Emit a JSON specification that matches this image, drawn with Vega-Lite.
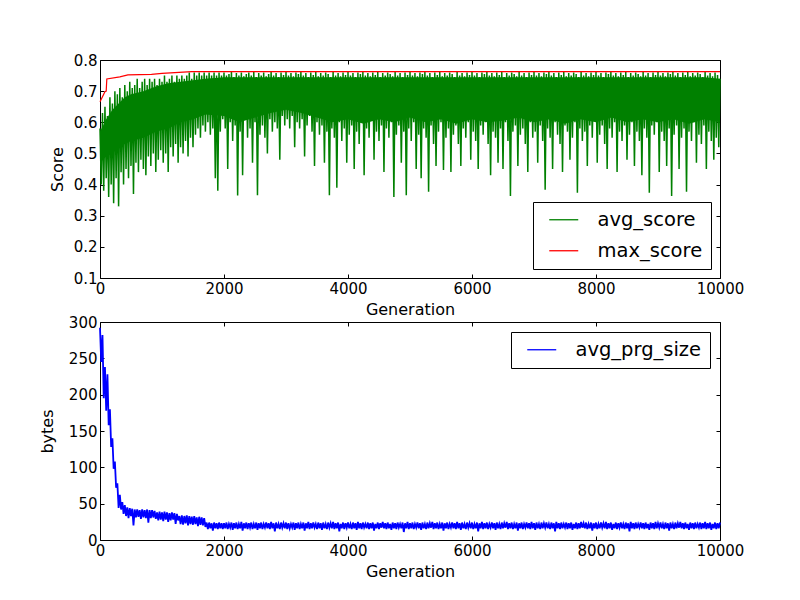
{
"$schema":"https://vega.github.io/schema/vega-lite/v6.json",
"background":"white",
"padding":{"left":38,"top":52,"right":10,"bottom":10},
"datasets":{
"mx":[{"g":0,"m":0.666},{"g":80,"m":0.698},{"g":100,"m":0.70},{"g":110,"m":0.739},{"g":320,"m":0.746},{"g":450,"m":0.752},{"g":830,"m":0.754},{"g":1000,"m":0.757},{"g":1480,"m":0.7625},{"g":10000,"m":0.7625}],
"band":[{"g":0,"lo":0.47,"hi":0.57},{"g":100,"lo":0.49,"hi":0.61},{"g":200,"lo":0.50,"hi":0.64},{"g":300,"lo":0.52,"hi":0.66},{"g":400,"lo":0.53,"hi":0.68},{"g":500,"lo":0.54,"hi":0.69},{"g":700,"lo":0.55,"hi":0.70},{"g":900,"lo":0.57,"hi":0.715},{"g":1100,"lo":0.58,"hi":0.725},{"g":1300,"lo":0.60,"hi":0.73},{"g":1500,"lo":0.61,"hi":0.735},{"g":1700,"lo":0.625,"hi":0.74},{"g":2000,"lo":0.62,"hi":0.745},{"g":2250,"lo":0.60,"hi":0.745},{"g":2500,"lo":0.615,"hi":0.745},{"g":2750,"lo":0.63,"hi":0.745},{"g":3000,"lo":0.64,"hi":0.745},{"g":3250,"lo":0.63,"hi":0.745},{"g":3500,"lo":0.615,"hi":0.745},{"g":3750,"lo":0.60,"hi":0.745},{"g":4000,"lo":0.61,"hi":0.745},{"g":4250,"lo":0.595,"hi":0.745},{"g":4500,"lo":0.61,"hi":0.745},{"g":4750,"lo":0.60,"hi":0.745},{"g":5000,"lo":0.615,"hi":0.745},{"g":5250,"lo":0.60,"hi":0.745},{"g":5500,"lo":0.61,"hi":0.745},{"g":5750,"lo":0.595,"hi":0.745},{"g":6000,"lo":0.61,"hi":0.745},{"g":6250,"lo":0.60,"hi":0.745},{"g":6500,"lo":0.605,"hi":0.745},{"g":6750,"lo":0.615,"hi":0.745},{"g":7000,"lo":0.60,"hi":0.745},{"g":7250,"lo":0.61,"hi":0.745},{"g":7500,"lo":0.595,"hi":0.745},{"g":7750,"lo":0.61,"hi":0.745},{"g":8000,"lo":0.60,"hi":0.745},{"g":8250,"lo":0.615,"hi":0.745},{"g":8500,"lo":0.60,"hi":0.745},{"g":8750,"lo":0.61,"hi":0.745},{"g":9000,"lo":0.60,"hi":0.745},{"g":9250,"lo":0.61,"hi":0.745},{"g":9500,"lo":0.595,"hi":0.745},{"g":9750,"lo":0.61,"hi":0.745},{"g":10000,"lo":0.60,"hi":0.74}],
"s":[
{"g":0,"a":0.58,"p":292},{"g":20,"a":0.40,"p":245},{"g":40,"a":0.63,"p":282},{"g":60,"a":0.38,"p":195},{"g":80,"a":0.65,"p":238},{"g":100,"a":0.42,"p":178},{"g":120,"a":0.62,"p":228},{"g":140,"a":0.36,"p":158},{"g":160,"a":0.68,"p":180},{"g":180,"a":0.40,"p":128},
{"g":200,"a":0.66,"p":140},{"g":220,"a":0.34,"p":98},{"g":240,"a":0.70,"p":108},{"g":260,"a":0.42,"p":72},{"g":280,"a":0.69,"p":78},{"g":300,"a":0.33,"p":44},{"g":320,"a":0.71,"p":62},{"g":340,"a":0.44,"p":42},{"g":360,"a":0.68,"p":52},{"g":380,"a":0.40,"p":36},
{"g":400,"a":0.72,"p":48},{"g":420,"a":0.45,"p":33},{"g":440,"a":0.70,"p":45},{"g":460,"a":0.42,"p":30},{"g":480,"a":0.73,"p":44},{"g":500,"a":0.46,"p":33},{"g":520,"a":0.71,"p":43},{"g":540,"a":0.37,"p":20},{"g":560,"a":0.72,"p":42},{"g":580,"a":0.47,"p":31},
{"g":600,"a":0.74,"p":42},{"g":620,"a":0.44,"p":32},{"g":640,"a":0.71,"p":41},{"g":660,"a":0.48,"p":29},{"g":680,"a":0.73,"p":42},{"g":700,"a":0.45,"p":31},{"g":720,"a":0.74,"p":41},{"g":740,"a":0.43,"p":30},{"g":760,"a":0.72,"p":42},{"g":780,"a":0.49,"p":24},
{"g":800,"a":0.74,"p":41},{"g":820,"a":0.46,"p":30},{"g":840,"a":0.73,"p":41},{"g":860,"a":0.50,"p":31},{"g":880,"a":0.74,"p":40},{"g":900,"a":0.44,"p":29},{"g":920,"a":0.72,"p":38},{"g":940,"a":0.48,"p":27},{"g":960,"a":0.74,"p":39},{"g":980,"a":0.51,"p":28},
{"g":1000,"a":0.73,"p":38},{"g":1020,"a":0.47,"p":26},{"g":1040,"a":0.75,"p":39},{"g":1060,"a":0.50,"p":28},{"g":1080,"a":0.73,"p":38},{"g":1100,"a":0.44,"p":25},{"g":1120,"a":0.74,"p":37},{"g":1140,"a":0.52,"p":27},{"g":1160,"a":0.75,"p":38},{"g":1180,"a":0.49,"p":28},
{"g":1200,"a":0.73,"p":37},{"g":1220,"a":0.53,"p":22},{"g":1240,"a":0.75,"p":36},{"g":1260,"a":0.47,"p":27},{"g":1280,"a":0.74,"p":33},{"g":1300,"a":0.52,"p":22},{"g":1320,"a":0.75,"p":34},{"g":1340,"a":0.50,"p":21},{"g":1360,"a":0.74,"p":33},{"g":1380,"a":0.54,"p":23},
{"g":1400,"a":0.75,"p":34},{"g":1420,"a":0.49,"p":20},{"g":1440,"a":0.76,"p":33},{"g":1460,"a":0.55,"p":22},{"g":1480,"a":0.74,"p":32},{"g":1500,"a":0.52,"p":21},{"g":1520,"a":0.76,"p":33},{"g":1540,"a":0.56,"p":22},{"g":1560,"a":0.75,"p":31},{"g":1580,"a":0.58,"p":19},
{"g":1600,"a":0.76,"p":32},{"g":1620,"a":0.55,"p":21},{"g":1640,"a":0.75,"p":31},{"g":1660,"a":0.59,"p":20},{"g":1680,"a":0.76,"p":30},{"g":1700,"a":0.57,"p":18},{"g":1720,"a":0.75,"p":24},{"g":1740,"a":0.60,"p":15},{"g":1760,"a":0.76,"p":24},{"g":1780,"a":0.56,"p":16},
{"g":1800,"a":0.75,"p":23},{"g":1820,"a":0.58,"p":13},{"g":1840,"a":0.76,"p":24},{"g":1860,"a":0.42,"p":16},{"g":1880,"a":0.75,"p":23},{"g":1900,"a":0.38,"p":15},{"g":1920,"a":0.76,"p":24},{"g":1940,"a":0.57,"p":16},{"g":1960,"a":0.75,"p":23},{"g":1980,"a":0.61,"p":15},
{"g":2000,"a":0.76,"p":23},{"g":2020,"a":0.58,"p":16},{"g":2040,"a":0.75,"p":24},{"g":2060,"a":0.45,"p":15},{"g":2080,"a":0.755,"p":22},{"g":2100,"a":0.60,"p":17},{"g":2120,"a":0.762,"p":24},{"g":2140,"a":0.54,"p":14},{"g":2160,"a":0.745,"p":23},{"g":2180,"a":0.59,"p":16},
{"g":2200,"a":0.758,"p":24},{"g":2220,"a":0.365,"p":15},{"g":2240,"a":0.75,"p":22},{"g":2260,"a":0.57,"p":16},{"g":2280,"a":0.76,"p":25},{"g":2300,"a":0.43,"p":13},{"g":2320,"a":0.748,"p":23},{"g":2340,"a":0.61,"p":16},{"g":2360,"a":0.755,"p":24},{"g":2380,"a":0.55,"p":15},
{"g":2400,"a":0.76,"p":23},{"g":2420,"a":0.58,"p":17},{"g":2440,"a":0.75,"p":24},{"g":2460,"a":0.47,"p":15},{"g":2480,"a":0.762,"p":22},{"g":2500,"a":0.60,"p":16},{"g":2520,"a":0.745,"p":24},{"g":2540,"a":0.366,"p":14},{"g":2560,"a":0.758,"p":23},{"g":2580,"a":0.56,"p":16},
{"g":2600,"a":0.75,"p":24},{"g":2620,"a":0.59,"p":15},{"g":2640,"a":0.76,"p":22},{"g":2660,"a":0.55,"p":17},{"g":2680,"a":0.748,"p":24},{"g":2700,"a":0.50,"p":16},{"g":2720,"a":0.755,"p":23},{"g":2740,"a":0.61,"p":15},{"g":2760,"a":0.762,"p":25},{"g":2780,"a":0.57,"p":16},
{"g":2800,"a":0.75,"p":23},{"g":2820,"a":0.60,"p":12},{"g":2840,"a":0.758,"p":24},{"g":2860,"a":0.58,"p":16},{"g":2880,"a":0.745,"p":22},{"g":2900,"a":0.48,"p":15},{"g":2920,"a":0.76,"p":24},{"g":2940,"a":0.62,"p":17},{"g":2960,"a":0.752,"p":23},{"g":2980,"a":0.59,"p":16},
{"g":3000,"a":0.762,"p":24},{"g":3020,"a":0.61,"p":15},{"g":3040,"a":0.75,"p":23},{"g":3060,"a":0.58,"p":16},{"g":3080,"a":0.758,"p":22},{"g":3100,"a":0.62,"p":17},{"g":3120,"a":0.748,"p":24},{"g":3140,"a":0.52,"p":14},{"g":3160,"a":0.76,"p":23},{"g":3180,"a":0.60,"p":16},
{"g":3200,"a":0.755,"p":24},{"g":3220,"a":0.58,"p":15},{"g":3240,"a":0.762,"p":22},{"g":3260,"a":0.61,"p":16},{"g":3280,"a":0.75,"p":24},{"g":3300,"a":0.49,"p":13},{"g":3320,"a":0.758,"p":23},{"g":3340,"a":0.59,"p":16},{"g":3360,"a":0.745,"p":25},{"g":3380,"a":0.62,"p":15},
{"g":3400,"a":0.76,"p":23},{"g":3420,"a":0.57,"p":16},{"g":3440,"a":0.752,"p":24},{"g":3460,"a":0.46,"p":17},{"g":3480,"a":0.762,"p":22},{"g":3500,"a":0.60,"p":15},{"g":3520,"a":0.748,"p":24},{"g":3540,"a":0.56,"p":16},{"g":3560,"a":0.758,"p":23},{"g":3580,"a":0.59,"p":14},
{"g":3600,"a":0.75,"p":24},{"g":3620,"a":0.47,"p":16},{"g":3640,"a":0.76,"p":22},{"g":3660,"a":0.57,"p":15},{"g":3680,"a":0.755,"p":24},{"g":3700,"a":0.366,"p":17},{"g":3720,"a":0.745,"p":23},{"g":3740,"a":0.58,"p":16},{"g":3760,"a":0.762,"p":25},{"g":3780,"a":0.55,"p":15},
{"g":3800,"a":0.75,"p":23},{"g":3820,"a":0.39,"p":16},{"g":3840,"a":0.758,"p":24},{"g":3860,"a":0.60,"p":12},{"g":3880,"a":0.748,"p":22},{"g":3900,"a":0.54,"p":16},{"g":3920,"a":0.76,"p":24},{"g":3940,"a":0.58,"p":15},{"g":3960,"a":0.752,"p":23},{"g":3980,"a":0.47,"p":17},
{"g":4000,"a":0.762,"p":24},{"g":4020,"a":0.56,"p":16},{"g":4040,"a":0.75,"p":22},{"g":4060,"a":0.59,"p":15},{"g":4080,"a":0.758,"p":24},{"g":4100,"a":0.45,"p":16},{"g":4120,"a":0.745,"p":23},{"g":4140,"a":0.57,"p":14},{"g":4160,"a":0.76,"p":25},{"g":4180,"a":0.53,"p":16},
{"g":4200,"a":0.755,"p":23},{"g":4220,"a":0.60,"p":15},{"g":4240,"a":0.762,"p":24},{"g":4260,"a":0.43,"p":17},{"g":4280,"a":0.75,"p":22},{"g":4300,"a":0.58,"p":16},{"g":4320,"a":0.758,"p":24},{"g":4340,"a":0.55,"p":15},{"g":4360,"a":0.748,"p":23},{"g":4380,"a":0.61,"p":16},
{"g":4400,"a":0.76,"p":24},{"g":4420,"a":0.48,"p":13},{"g":4440,"a":0.752,"p":22},{"g":4460,"a":0.57,"p":16},{"g":4480,"a":0.762,"p":24},{"g":4500,"a":0.54,"p":15},{"g":4520,"a":0.745,"p":23},{"g":4540,"a":0.59,"p":17},{"g":4560,"a":0.758,"p":25},{"g":4580,"a":0.44,"p":16},
{"g":4600,"a":0.75,"p":23},{"g":4620,"a":0.58,"p":15},{"g":4640,"a":0.76,"p":24},{"g":4660,"a":0.55,"p":16},{"g":4680,"a":0.755,"p":22},{"g":4700,"a":0.60,"p":14},{"g":4720,"a":0.748,"p":24},{"g":4740,"a":0.36,"p":16},{"g":4760,"a":0.762,"p":23},{"g":4780,"a":0.56,"p":15},
{"g":4800,"a":0.75,"p":24},{"g":4820,"a":0.59,"p":17},{"g":4840,"a":0.758,"p":22},{"g":4860,"a":0.47,"p":16},{"g":4880,"a":0.745,"p":24},{"g":4900,"a":0.57,"p":11},{"g":4920,"a":0.76,"p":23},{"g":4940,"a":0.366,"p":16},{"g":4960,"a":0.752,"p":25},{"g":4980,"a":0.58,"p":15},
{"g":5000,"a":0.762,"p":23},{"g":5020,"a":0.54,"p":16},{"g":5040,"a":0.75,"p":24},{"g":5060,"a":0.60,"p":15},{"g":5080,"a":0.758,"p":22},{"g":5100,"a":0.45,"p":17},{"g":5120,"a":0.748,"p":24},{"g":5140,"a":0.56,"p":16},{"g":5160,"a":0.76,"p":23},{"g":5180,"a":0.42,"p":14},
{"g":5200,"a":0.755,"p":24},{"g":5220,"a":0.58,"p":16},{"g":5240,"a":0.762,"p":22},{"g":5260,"a":0.55,"p":15},{"g":5280,"a":0.75,"p":24},{"g":5300,"a":0.377,"p":16},{"g":5320,"a":0.758,"p":23},{"g":5340,"a":0.59,"p":17},{"g":5360,"a":0.745,"p":25},{"g":5380,"a":0.53,"p":15},
{"g":5400,"a":0.76,"p":23},{"g":5420,"a":0.46,"p":16},{"g":5440,"a":0.752,"p":24},{"g":5460,"a":0.57,"p":15},{"g":5480,"a":0.762,"p":22},{"g":5500,"a":0.60,"p":16},{"g":5520,"a":0.748,"p":24},{"g":5540,"a":0.447,"p":13},{"g":5560,"a":0.758,"p":23},{"g":5580,"a":0.55,"p":16},
{"g":5600,"a":0.75,"p":24},{"g":5620,"a":0.58,"p":15},{"g":5640,"a":0.76,"p":22},{"g":5660,"a":0.44,"p":17},{"g":5680,"a":0.755,"p":24},{"g":5700,"a":0.56,"p":16},{"g":5720,"a":0.745,"p":23},{"g":5740,"a":0.59,"p":15},{"g":5760,"a":0.762,"p":25},{"g":5780,"a":0.53,"p":16},
{"g":5800,"a":0.75,"p":23},{"g":5820,"a":0.46,"p":14},{"g":5840,"a":0.758,"p":24},{"g":5860,"a":0.58,"p":16},{"g":5880,"a":0.748,"p":22},{"g":5900,"a":0.55,"p":15},{"g":5920,"a":0.76,"p":24},{"g":5940,"a":0.60,"p":17},{"g":5960,"a":0.752,"p":23},{"g":5980,"a":0.48,"p":16},
{"g":6000,"a":0.762,"p":24},{"g":6020,"a":0.57,"p":15},{"g":6040,"a":0.75,"p":22},{"g":6060,"a":0.54,"p":16},{"g":6080,"a":0.758,"p":24},{"g":6100,"a":0.45,"p":12},{"g":6120,"a":0.745,"p":23},{"g":6140,"a":0.59,"p":16},{"g":6160,"a":0.76,"p":25},{"g":6180,"a":0.56,"p":15},
{"g":6200,"a":0.755,"p":23},{"g":6220,"a":0.60,"p":16},{"g":6240,"a":0.762,"p":24},{"g":6260,"a":0.53,"p":15},{"g":6280,"a":0.75,"p":22},{"g":6300,"a":0.43,"p":17},{"g":6320,"a":0.758,"p":24},{"g":6340,"a":0.57,"p":16},{"g":6360,"a":0.748,"p":23},{"g":6380,"a":0.55,"p":14},
{"g":6400,"a":0.76,"p":24},{"g":6420,"a":0.47,"p":16},{"g":6440,"a":0.752,"p":22},{"g":6460,"a":0.58,"p":15},{"g":6480,"a":0.762,"p":24},{"g":6500,"a":0.45,"p":16},{"g":6520,"a":0.745,"p":23},{"g":6540,"a":0.60,"p":17},{"g":6560,"a":0.758,"p":25},{"g":6580,"a":0.54,"p":15},
{"g":6600,"a":0.75,"p":23},{"g":6620,"a":0.363,"p":16},{"g":6640,"a":0.76,"p":24},{"g":6660,"a":0.57,"p":15},{"g":6680,"a":0.755,"p":22},{"g":6700,"a":0.59,"p":16},{"g":6720,"a":0.748,"p":24},{"g":6740,"a":0.46,"p":13},{"g":6760,"a":0.762,"p":23},{"g":6780,"a":0.56,"p":16},
{"g":6800,"a":0.75,"p":24},{"g":6820,"a":0.58,"p":15},{"g":6840,"a":0.758,"p":22},{"g":6860,"a":0.53,"p":17},{"g":6880,"a":0.745,"p":24},{"g":6900,"a":0.44,"p":16},{"g":6920,"a":0.76,"p":23},{"g":6940,"a":0.60,"p":15},{"g":6960,"a":0.752,"p":25},{"g":6980,"a":0.55,"p":16},
{"g":7000,"a":0.762,"p":23},{"g":7020,"a":0.57,"p":14},{"g":7040,"a":0.75,"p":24},{"g":7060,"a":0.47,"p":16},{"g":7080,"a":0.758,"p":22},{"g":7100,"a":0.59,"p":15},{"g":7120,"a":0.748,"p":24},{"g":7140,"a":0.54,"p":16},{"g":7160,"a":0.76,"p":23},{"g":7180,"a":0.383,"p":17},
{"g":7200,"a":0.755,"p":24},{"g":7220,"a":0.58,"p":16},{"g":7240,"a":0.762,"p":22},{"g":7260,"a":0.55,"p":15},{"g":7280,"a":0.75,"p":24},{"g":7300,"a":0.45,"p":16},{"g":7320,"a":0.758,"p":23},{"g":7340,"a":0.60,"p":12},{"g":7360,"a":0.745,"p":25},{"g":7380,"a":0.56,"p":16},
{"g":7400,"a":0.76,"p":23},{"g":7420,"a":0.53,"p":15},{"g":7440,"a":0.752,"p":24},{"g":7460,"a":0.44,"p":16},{"g":7480,"a":0.762,"p":22},{"g":7500,"a":0.59,"p":17},{"g":7520,"a":0.748,"p":24},{"g":7540,"a":0.57,"p":15},{"g":7560,"a":0.758,"p":23},{"g":7580,"a":0.48,"p":16},
{"g":7600,"a":0.75,"p":24},{"g":7620,"a":0.55,"p":14},{"g":7640,"a":0.76,"p":22},{"g":7660,"a":0.60,"p":16},{"g":7680,"a":0.755,"p":24},{"g":7700,"a":0.374,"p":15},{"g":7720,"a":0.745,"p":23},{"g":7740,"a":0.58,"p":16},{"g":7760,"a":0.762,"p":25},{"g":7780,"a":0.54,"p":17},
{"g":7800,"a":0.75,"p":23},{"g":7820,"a":0.57,"p":16},{"g":7840,"a":0.758,"p":24},{"g":7860,"a":0.46,"p":15},{"g":7880,"a":0.748,"p":22},{"g":7900,"a":0.59,"p":16},{"g":7920,"a":0.76,"p":24},{"g":7940,"a":0.55,"p":13},{"g":7960,"a":0.752,"p":23},{"g":7980,"a":0.61,"p":16},
{"g":8000,"a":0.762,"p":24},{"g":8020,"a":0.47,"p":15},{"g":8040,"a":0.75,"p":22},{"g":8060,"a":0.56,"p":16},{"g":8080,"a":0.758,"p":24},{"g":8100,"a":0.59,"p":17},{"g":8120,"a":0.745,"p":23},{"g":8140,"a":0.53,"p":16},{"g":8160,"a":0.76,"p":25},{"g":8180,"a":0.45,"p":15},
{"g":8200,"a":0.755,"p":23},{"g":8220,"a":0.58,"p":16},{"g":8240,"a":0.762,"p":24},{"g":8260,"a":0.55,"p":14},{"g":8280,"a":0.75,"p":22},{"g":8300,"a":0.60,"p":16},{"g":8320,"a":0.758,"p":24},{"g":8340,"a":0.44,"p":15},{"g":8360,"a":0.748,"p":23},{"g":8380,"a":0.57,"p":17},
{"g":8400,"a":0.76,"p":24},{"g":8420,"a":0.54,"p":16},{"g":8440,"a":0.752,"p":22},{"g":8460,"a":0.59,"p":15},{"g":8480,"a":0.762,"p":24},{"g":8500,"a":0.48,"p":16},{"g":8520,"a":0.745,"p":23},{"g":8540,"a":0.56,"p":12},{"g":8560,"a":0.758,"p":25},{"g":8580,"a":0.60,"p":16},
{"g":8600,"a":0.75,"p":23},{"g":8620,"a":0.46,"p":15},{"g":8640,"a":0.76,"p":24},{"g":8660,"a":0.57,"p":16},{"g":8680,"a":0.755,"p":22},{"g":8700,"a":0.54,"p":17},{"g":8720,"a":0.748,"p":24},{"g":8740,"a":0.43,"p":16},{"g":8760,"a":0.762,"p":23},{"g":8780,"a":0.58,"p":15},
{"g":8800,"a":0.75,"p":24},{"g":8820,"a":0.55,"p":16},{"g":8840,"a":0.758,"p":22},{"g":8860,"a":0.374,"p":14},{"g":8880,"a":0.745,"p":24},{"g":8900,"a":0.59,"p":16},{"g":8920,"a":0.76,"p":23},{"g":8940,"a":0.56,"p":15},{"g":8960,"a":0.752,"p":25},{"g":8980,"a":0.60,"p":16},
{"g":9000,"a":0.762,"p":23},{"g":9020,"a":0.44,"p":17},{"g":9040,"a":0.75,"p":24},{"g":9060,"a":0.57,"p":16},{"g":9080,"a":0.758,"p":22},{"g":9100,"a":0.54,"p":15},{"g":9120,"a":0.748,"p":24},{"g":9140,"a":0.46,"p":16},{"g":9160,"a":0.76,"p":23},{"g":9180,"a":0.58,"p":13},
{"g":9200,"a":0.755,"p":24},{"g":9220,"a":0.363,"p":16},{"g":9240,"a":0.762,"p":22},{"g":9260,"a":0.56,"p":15},{"g":9280,"a":0.75,"p":24},{"g":9300,"a":0.59,"p":16},{"g":9320,"a":0.758,"p":23},{"g":9340,"a":0.45,"p":17},{"g":9360,"a":0.745,"p":25},{"g":9380,"a":0.55,"p":16},
{"g":9400,"a":0.76,"p":23},{"g":9420,"a":0.58,"p":15},{"g":9440,"a":0.752,"p":24},{"g":9460,"a":0.377,"p":16},{"g":9480,"a":0.762,"p":22},{"g":9500,"a":0.57,"p":14},{"g":9520,"a":0.748,"p":24},{"g":9540,"a":0.54,"p":16},{"g":9560,"a":0.758,"p":23},{"g":9580,"a":0.60,"p":15},
{"g":9600,"a":0.75,"p":24},{"g":9620,"a":0.47,"p":16},{"g":9640,"a":0.76,"p":22},{"g":9660,"a":0.56,"p":17},{"g":9680,"a":0.755,"p":24},{"g":9700,"a":0.53,"p":15},{"g":9720,"a":0.745,"p":23},{"g":9740,"a":0.59,"p":16},{"g":9760,"a":0.762,"p":25},{"g":9780,"a":0.45,"p":15},
{"g":9800,"a":0.75,"p":23},{"g":9820,"a":0.57,"p":16},{"g":9840,"a":0.758,"p":24},{"g":9860,"a":0.54,"p":14},{"g":9880,"a":0.748,"p":22},{"g":9900,"a":0.48,"p":16},{"g":9920,"a":0.76,"p":24},{"g":9940,"a":0.55,"p":15},{"g":9960,"a":0.752,"p":23},{"g":9980,"a":0.52,"p":16},
{"g":10000,"a":0.74,"p":24}
]},
"config":{
"view":{"stroke":"black","strokeWidth":1},
"axis":{"domain":false,"grid":false,"labelFlush":false,"labelFont":"DejaVu Sans","labelFontSize":15,"labelColor":"black","titleFont":"DejaVu Sans","titleFontSize":16,"titleFontWeight":"normal","titleColor":"black","tickColor":"black","tickSize":-4,"tickWidth":1},
"legend":{"orient":"none","title":null,"labelFont":"DejaVu Sans","labelFontSize":19.5,"labelColor":"black","labelLimit":0,"symbolType":"M-2,0H2","symbolSize":210,"symbolStrokeWidth":1.3,"symbolOffset":13,"labelOffset":24,"padding":8,"rowPadding":10,"strokeColor":"black","strokeWidth":1,"fillColor":"white","cornerRadius":0}
},
"spacing":44,
"bounds":"flush",
"resolve":{"scale":{"color":"independent","y":"independent"},"legend":{"color":"independent"}},
"vconcat":[
{"width":620,"height":218,
"layer":[
{"data":{"name":"band"},"mark":{"type":"area","color":"#008000","opacity":1},
"encoding":{
"x":{"field":"g","type":"quantitative","scale":{"domain":[0,10000],"nice":false},"axis":{"orient":"bottom","title":"Generation","values":[0,2000,4000,6000,8000,10000],"format":"d","labelPadding":7,"titlePadding":5}},
"y":{"field":"lo","type":"quantitative","scale":{"domain":[0.1,0.8],"nice":false,"zero":false},"axis":{"orient":"left","title":"Score","values":[0.1,0.2,0.3,0.4,0.5,0.6,0.7,0.8],"format":".1f","labelPadding":7,"titlePadding":8}},
"y2":{"field":"hi"}
}},
{"data":{"name":"s"},"mark":{"type":"line","strokeWidth":1.5},
"encoding":{
"x":{"field":"g","type":"quantitative","scale":{"domain":[0,10000],"nice":false},"axis":null},
"y":{"field":"a","type":"quantitative","scale":{"domain":[0.1,0.8],"nice":false,"zero":false},"axis":null},
"color":{"datum":"avg_score","type":"nominal","scale":{"domain":["avg_score","max_score"],"range":["#008000","#ff0000"]},"legend":{"legendX":433,"legendY":142}}
}},
{"data":{"name":"mx"},"mark":{"type":"line","strokeWidth":1.2},
"encoding":{
"x":{"field":"g","type":"quantitative","scale":{"domain":[0,10000],"nice":false},"axis":{"orient":"top","labels":false,"title":null,"values":[0,2000,4000,6000,8000,10000]}},
"y":{"field":"m","type":"quantitative","scale":{"domain":[0.1,0.8],"nice":false,"zero":false},"axis":{"orient":"right","labels":false,"title":null,"values":[0.1,0.2,0.3,0.4,0.5,0.6,0.7,0.8]}},
"color":{"datum":"max_score","type":"nominal"}
}}
],
"resolve":{"axis":{"x":"independent","y":"independent"}}
},
{"width":620,"height":218,
"layer":[
{"data":{"name":"s"},"mark":{"type":"line","strokeWidth":1.8},
"encoding":{
"x":{"field":"g","type":"quantitative","scale":{"domain":[0,10000],"nice":false},"axis":{"orient":"bottom","title":"Generation","values":[0,2000,4000,6000,8000,10000],"format":"d","labelPadding":7,"titlePadding":5}},
"y":{"field":"p","type":"quantitative","scale":{"domain":[0,300],"nice":false},"axis":{"orient":"left","title":"bytes","values":[0,50,100,150,200,250,300],"labelPadding":7,"titlePadding":13}},
"color":{"datum":"avg_prg_size","type":"nominal","scale":{"domain":["avg_prg_size"],"range":["#0000ff"]},"legend":{"legendX":411,"legendY":10}}
}},
{"data":{"name":"s"},"mark":{"type":"line","opacity":0},
"encoding":{
"x":{"field":"g","type":"quantitative","scale":{"domain":[0,10000],"nice":false},"axis":{"orient":"top","labels":false,"title":null,"values":[0,2000,4000,6000,8000,10000]}},
"y":{"field":"p","type":"quantitative","scale":{"domain":[0,300],"nice":false},"axis":{"orient":"right","labels":false,"title":null,"values":[0,50,100,150,200,250,300]}}
}}
],
"resolve":{"axis":{"x":"independent","y":"independent"}}
}
]
}
